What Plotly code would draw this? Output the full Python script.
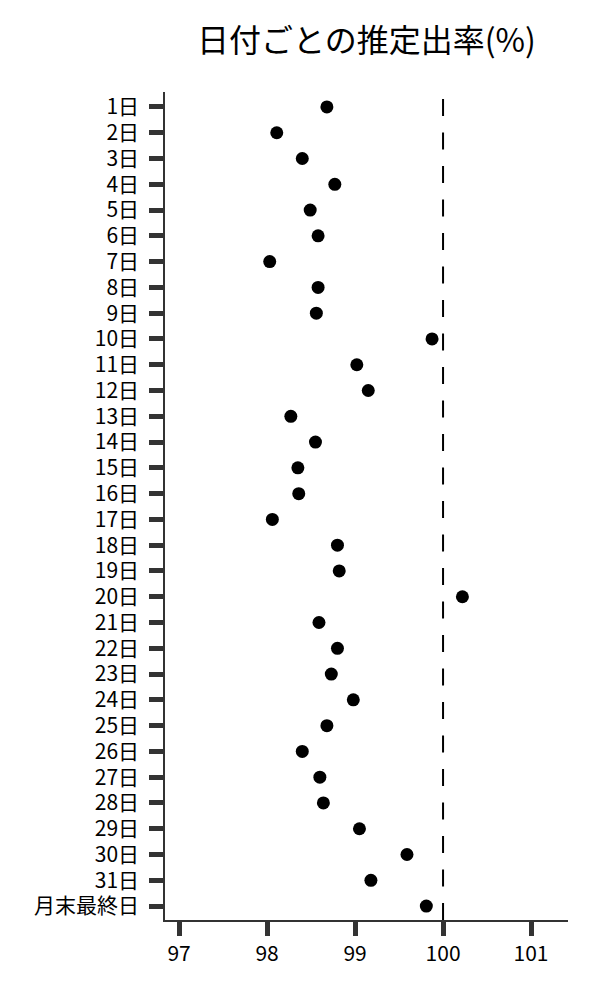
import plotly.graph_objects as go

# categories (top to bottom) and estimated rates
days = [f"{d}日" for d in range(1, 32)] + ["月末最終日"]
rates = [
    98.68, 98.11, 98.40, 98.77, 98.49, 98.58, 98.03, 98.58, 98.56, 99.875,
    99.02, 99.15, 98.27, 98.55, 98.35, 98.36, 98.06, 98.80, 98.82, 100.22,
    98.59, 98.80, 98.73, 98.98, 98.68, 98.40, 98.60, 98.64, 99.05, 99.59,
    99.18, 99.81,
]
x_ticks = [97, 98, 99, 100, 101]
ref_line = 100

font_family = "Noto Sans CJK JP"
axis_color = "#333333"

fig = go.Figure()
fig.add_trace(go.Scatter(
    x=rates,
    y=days,
    mode="markers",
    marker=dict(color="black", size=13),
    showlegend=False,
))

# reference line at 100%
fig.add_shape(
    type="line", xref="x", yref="paper",
    x0=ref_line, x1=ref_line, y0=0, y1=1,
    line=dict(color="black", width=2, dash="17px,16.5px"),
)

# page body adds an 8px offset, so margins are trimmed on the left/top
fig.update_layout(
    width=600, height=1000,
    paper_bgcolor="white", plot_bgcolor="white",
    margin=dict(l=157, r=40, t=84, b=88),
    font=dict(family=font_family, size=21, color="black"),
    title=dict(
        text="日付ごとの推定出率(%)",
        font=dict(family=font_family, size=32, color="black"),
        x=0.5, xanchor="center", xref="paper",
        y=0.967, yanchor="middle", yref="container",
    ),
)
fig.update_xaxes(
    range=[96.84, 101.42],
    tickvals=x_ticks,
    ticks="outside", ticklen=14, tickwidth=5, tickcolor=axis_color,
    showline=True, linecolor=axis_color, linewidth=1.5,
    showgrid=False, zeroline=False,
    tickfont=dict(size=21, color="black"),
)
fig.update_yaxes(
    type="category",
    categoryorder="array", categoryarray=days,
    tickmode="array", tickvals=days, ticktext=days,
    range=[31.54, -0.58],
    ticks="outside", ticklen=14, tickwidth=5, tickcolor=axis_color,
    ticklabelstandoff=6,
    showline=True, linecolor=axis_color, linewidth=1.5,
    showgrid=False, zeroline=False,
    tickfont=dict(size=21, color="black"),
)

fig.write_html("out.html")
